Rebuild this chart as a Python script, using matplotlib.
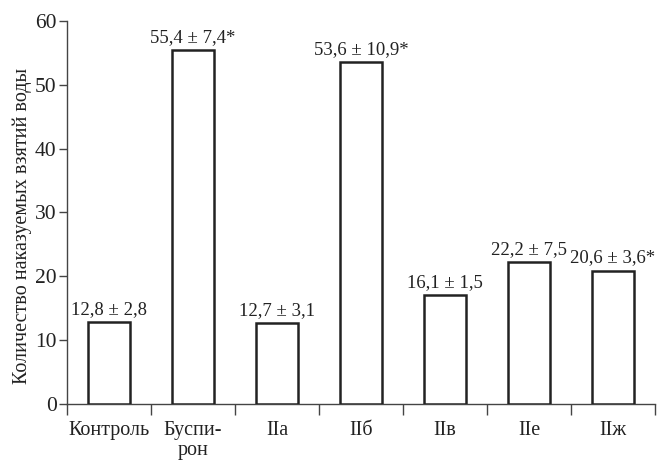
import matplotlib
matplotlib.use("Agg")
import matplotlib.pyplot as plt
import numpy as np

categories = ["Контроль", "Буспи-\nрон", "IIa", "IIб", "IIв", "IIе", "IIж"]
values = [12.8, 55.4, 12.7, 53.6, 17.0, 22.2, 20.9]
labels = ["12,8 ± 2,8", "55,4 ± 7,4*", "12,7 ± 3,1", "53,6 ± 10,9*",
          "16,1 ± 1,5", "22,2 ± 7,5", "20,6 ± 3,6*"]
yticks = [0, 10, 20, 30, 40, 50, 60]

plt.rcParams['font.family'] = ['Liberation Serif', 'DejaVu Serif']

fig = plt.figure(figsize=(6.58, 4.66), dpi=100)
ax = fig.add_axes([0.1018, 0.133, 0.8936, 0.822])

x = np.arange(len(categories))
bars = ax.bar(x, values, width=0.49, facecolor='white', edgecolor='#222222',
              linewidth=1.8, zorder=3)
for xi, v, lab in zip(x, values, labels):
    ax.annotate(lab, (xi, v), xytext=(0, 3), textcoords='offset points',
                ha='center', va='bottom', fontsize=13.5, color='#222222')

ax.set_xlim(-0.5, len(categories) - 0.5)
ax.set_ylim(0, 60)
ax.set_yticks(yticks)
ax.set_yticklabels([str(t) for t in yticks], fontsize=15.5, color='#222222')
ax.set_xticks(x)
ax.set_xticklabels(categories, fontsize=14.5, color='#222222', linespacing=1.1)
ax.set_xticks(np.arange(len(categories) + 1) - 0.5, minor=True)
ax.tick_params(axis='x', which='major', length=0, pad=12)
ax.tick_params(axis='x', which='minor', length=8, width=1, color='#444444', direction='out')
ax.tick_params(axis='y', length=6, width=1, color='#444444', direction='out', pad=1.5)

for s in ['top', 'right']:
    ax.spines[s].set_visible(False)
for s in ['left', 'bottom']:
    ax.spines[s].set_color('#444444')
    ax.spines[s].set_linewidth(1.0)

ax.set_ylabel("Количество наказуемых взятий воды", fontsize=14.5, color='#222222')
ax.yaxis.set_label_coords(-0.06, 0.465)

fig.savefig("out.png", dpi=100)
